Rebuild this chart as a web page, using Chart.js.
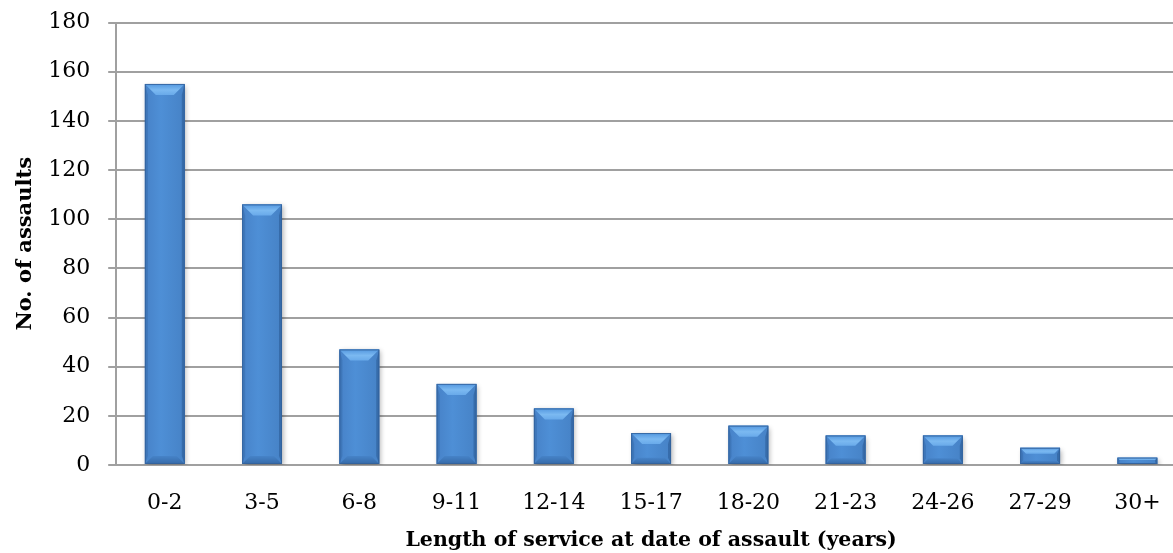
<!DOCTYPE html>
<html>
<head>
<meta charset="utf-8">
<script src="https://cdn.jsdelivr.net/npm/chart.js@4.4.1/dist/chart.umd.min.js"></script>
<style>
  html, body { margin: 0; padding: 0; background: #ffffff; overflow: hidden; }
  #wrap { position: relative; width: 1186px; height: 553px; }
</style>
</head>
<body>
<div id="wrap"><canvas id="chart"></canvas></div>
<script>
// Assaults grouped by length of service
const serviceBands = ['0-2', '3-5', '6-8', '9-11', '12-14', '15-17', '18-20', '21-23', '24-26', '27-29', '30+'];
const assaultCounts = [155, 106, 47, 33, 23, 13, 16, 12, 12, 7, 3];
const yTicks = [0, 20, 40, 60, 80, 100, 120, 140, 160, 180];

const FONT = '"DejaVu Serif", "Liberation Serif", serif';

// Soft drop shadow under the bars
const barShadow = {
  id: 'barShadow',
  beforeDatasetDraw(chart) {
    const ctx = chart.ctx;
    ctx.save();
    ctx.shadowColor = 'rgba(0,0,0,0.30)';
    ctx.shadowBlur = 5;
    ctx.shadowOffsetX = 1.5;
    ctx.shadowOffsetY = 2;
  },
  afterDatasetDraw(chart) {
    chart.ctx.restore();
  }
};

// Bevelled face on each bar, using the positions the bar scale gives
const barBevel = {
  id: 'barBevel',
  afterDatasetsDraw(chart) {
    const ctx = chart.ctx;
    const meta = chart.getDatasetMeta(0);
    meta.data.forEach(bar => {
      const p = bar.getProps(['x', 'y', 'base', 'width'], true);
      const l = p.x - p.width / 2, r = p.x + p.width / 2;
      const t = Math.min(p.y, p.base), b = Math.max(p.y, p.base);
      const h = b - t, w = r - l;
      const bv = Math.min(11, h * 0.36, w / 2);
      const bb = Math.min(8, h * 0.2);
      const side = Math.min(3, bv);
      ctx.save();
      // main face, slight horizontal shading
      const face = ctx.createLinearGradient(l, 0, r, 0);
      face.addColorStop(0, '#4782c8');
      face.addColorStop(0.4, '#4e8fd6');
      face.addColorStop(1, '#4682c6');
      ctx.fillStyle = face;
      ctx.fillRect(l, t, w, h);
      // left edge
      ctx.fillStyle = 'rgba(45,95,155,0.35)';
      ctx.beginPath();
      ctx.moveTo(l, t); ctx.lineTo(l + side, t + bv); ctx.lineTo(l + side, b - bb); ctx.lineTo(l, b);
      ctx.closePath(); ctx.fill();
      // right edge
      ctx.fillStyle = 'rgba(35,80,135,0.45)';
      ctx.beginPath();
      ctx.moveTo(r, t); ctx.lineTo(r - side, t + bv); ctx.lineTo(r - side, b - bb); ctx.lineTo(r, b);
      ctx.closePath(); ctx.fill();
      // top bevel
      const topG = ctx.createLinearGradient(0, t, 0, t + bv);
      topG.addColorStop(0, '#5397df');
      topG.addColorStop(0.55, '#7bb9f1');
      topG.addColorStop(1, '#69aaea');
      ctx.fillStyle = topG;
      ctx.beginPath();
      ctx.moveTo(l, t); ctx.lineTo(r, t); ctx.lineTo(r - bv, t + bv); ctx.lineTo(l + bv, t + bv);
      ctx.closePath(); ctx.fill();
      // bottom bevel
      const botG = ctx.createLinearGradient(0, b - bb, 0, b);
      botG.addColorStop(0, '#4683c8');
      botG.addColorStop(1, '#366aa8');
      ctx.fillStyle = botG;
      ctx.beginPath();
      ctx.moveTo(l, b); ctx.lineTo(r, b); ctx.lineTo(r - bb, b - bb); ctx.lineTo(l + bb, b - bb);
      ctx.closePath(); ctx.fill();
      // outline
      ctx.strokeStyle = 'rgba(50,98,155,0.85)';
      ctx.lineWidth = 1;
      ctx.strokeRect(l + 0.5, t + 0.5, w - 1, h - 1);
      ctx.restore();
    });
  }
};

new Chart(document.getElementById('chart'), {
  type: 'bar',
  data: {
    labels: serviceBands,
    datasets: [{
      data: assaultCounts,
      backgroundColor: '#4a86c8',
      borderWidth: 0,
      barPercentage: 0.41,
      categoryPercentage: 1.0
    }]
  },
  options: {
    responsive: true,
    maintainAspectRatio: false,
    animation: false,
    events: [],
    layout: { padding: { top: 0, right: 0, bottom: 0, left: 13 } },
    plugins: {
      legend: { display: false },
      tooltip: { enabled: false }
    },
    scales: {
      x: {
        grid: { display: false, drawTicks: false },
        border: { display: false },
        ticks: { color: '#000', font: { family: FONT, size: 22 }, padding: 25, maxRotation: 0, autoSkip: false },
        title: {
          display: true,
          text: 'Length of service at date of assault (years)',
          color: '#000',
          font: { family: FONT, size: 20.5, weight: 'bold' },
          padding: { top: -13, bottom: 0 }
        }
      },
      y: {
        min: 0,
        max: 180,
        afterBuildTicks(scale) { scale.ticks = yTicks.map(v => ({ value: v })); },
        afterFit(scale) { scale.paddingTop = 22.5; },
        grid: { color: '#a0a0a0', lineWidth: 2, tickLength: 8 },
        border: { display: true, color: '#a0a0a0', width: 2 },
        ticks: { color: '#000', font: { family: FONT, size: 22 }, padding: 18 },
        title: {
          display: true,
          text: 'No. of assaults',
          color: '#000',
          font: { family: FONT, size: 21, weight: 'bold' },
          padding: { top: 0, bottom: -8 }
        }
      }
    }
  },
  plugins: [barShadow, barBevel]
});
</script>
</body>
</html>
